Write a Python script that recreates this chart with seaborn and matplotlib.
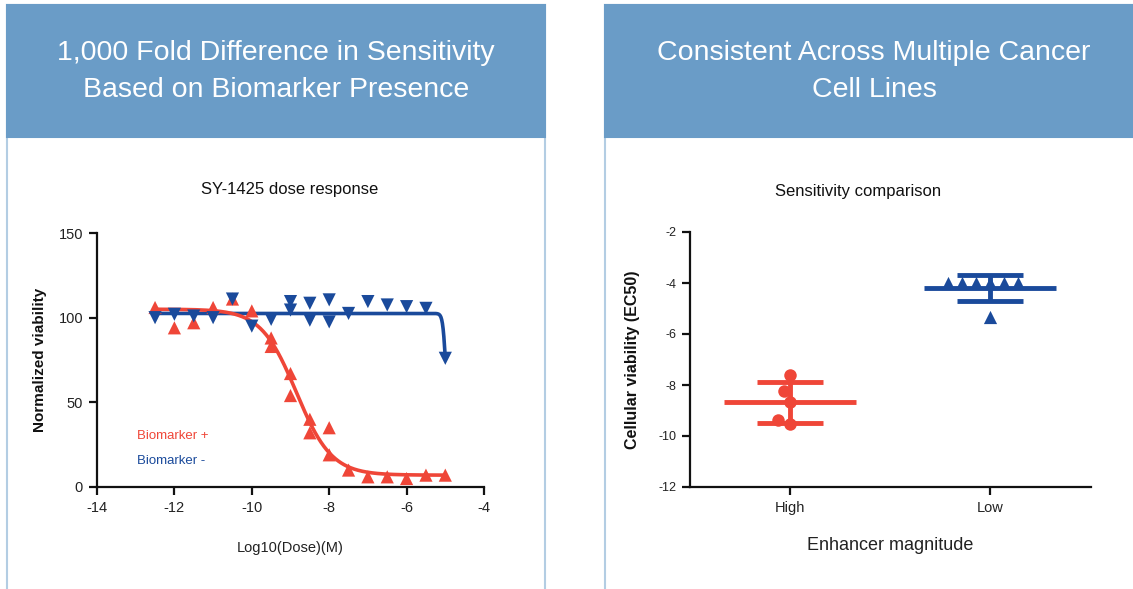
import numpy as np
import pandas as pd
import matplotlib
matplotlib.use("Agg")
import matplotlib.pyplot as plt
from matplotlib.patches import Rectangle
from matplotlib import font_manager
import seaborn as sns

# ---------------- data ----------------
red_dose = [-12.5, -12, -11.5, -11, -10.5, -10, -9.5, -9.5, -9, -9, -8.5, -8.5,
            -8, -8, -7.5, -7, -6.5, -6, -5.5, -5]
red_viab = [106, 94, 97, 106, 111, 104, 88, 83, 67, 54, 40, 32,
            35, 19, 10, 6, 6, 5, 7, 7]
blue_dose = [-12.5, -12, -11.5, -11, -10.5, -10, -9.5, -9, -9, -8.5, -8.5,
             -8, -8, -7.5, -7, -6.5, -6, -5.5, -5]
blue_viab = [100, 102, 101, 100, 111, 95, 99, 109.5, 104.5, 108.5, 98.5,
             110.5, 97.5, 102.5, 109.5, 107.5, 106.5, 105.5, 76]
# fitted 4-parameter logistic models (top, bottom, logEC50, hill)
red_fit = (105.0, 7.0, -8.85, 0.95)
blue_fit = (102.5, 50.0, -5.0, 12.0)
fit_range = (-12.5, -5.0)

ec50_high = [-7.61, -8.22, -8.65, -9.37, -9.53]
ec50_low = [-4.0, -4.0, -4.0, -4.0, -4.0, -4.0, -5.32]
groups = ["High", "Low"]

left_xticks = [-14, -12, -10, -8, -6, -4]
left_yticks = [0, 50, 100, 150]
right_yticks = [-2, -4, -6, -8, -10, -12]

RED = "#ef4638"
BLUE = "#1a4a9b"
HEADER = "#6a9cc7"
BORDER = "#b3cde3"

# ---------------- fonts ----------------
names = {f.name for f in font_manager.fontManager.ttflist}
narrow = "Liberation Sans Narrow" if "Liberation Sans Narrow" in names else "Liberation Sans"
sns.set_theme(style="ticks")
plt.rcParams["font.family"] = ["Liberation Sans", "DejaVu Sans"]

W, H = 1133, 589
fig = plt.figure(figsize=(W / 100, H / 100), dpi=100)
fig.patch.set_facecolor("white")

def fx(px):
    return px / W

def fy(py):
    return 1 - py / H

# panels
for x0, x1, cx, lines in [(7, 545, 276, ["1,000 Fold Difference in Sensitivity", "Based on Biomarker Presence"]),
                          (605, 1145, 874, ["Consistent Across Multiple Cancer", "Cell Lines"])]:
    fig.patches.append(Rectangle((fx(x0), fy(600)), fx(x1 - x0), (600 - 5) / H,
                                 transform=fig.transFigure, facecolor="white",
                                 edgecolor=BORDER, lw=1.5, zorder=0))
    fig.patches.append(Rectangle((fx(x0), fy(137)), fx(x1 - x0), 132 / H,
                                 transform=fig.transFigure, facecolor=HEADER,
                                 edgecolor=HEADER, lw=1.5, zorder=1))
    for i, t in enumerate(lines):
        fig.text(fx(cx), fy(53 + 37 * i), t, color="white", fontsize=20.5,
                 family=[narrow, "DejaVu Sans"], ha="center", va="center")

# ---------------- left chart ----------------
axL = fig.add_axes([fx(97), fy(487), fx(484 - 97), (487 - 233) / H])
axL.set_zorder(10)
axL.set_facecolor("none")
xs = np.linspace(fit_range[0], fit_range[1], 400)

def logistic(x, p):
    top, bottom, lec, hill = p
    return bottom + (top - bottom) / (1 + 10 ** ((x - lec) * hill))

sns.lineplot(x=xs, y=logistic(xs, blue_fit), color=BLUE, lw=2.6, ax=axL, zorder=2)
sns.lineplot(x=xs, y=logistic(xs, red_fit), color=RED, lw=2.6, ax=axL, zorder=3)
sns.scatterplot(x=red_dose, y=red_viab, marker="^", s=90, color=RED,
                edgecolor="none", ax=axL, zorder=4)
sns.scatterplot(x=blue_dose, y=blue_viab, marker="v", s=90, color=BLUE,
                edgecolor="none", ax=axL, zorder=4)
axL.set_xlim(-14, -4)
axL.set_ylim(0, 150)
axL.set_xticks(left_xticks)
axL.set_yticks(left_yticks)
axL.set_xticklabels([str(t) for t in left_xticks], family=[narrow, "DejaVu Sans"])
axL.set_xlabel("")
axL.set_ylabel("")
axL.text(-12.97, 30, "Biomarker +", color=RED, fontsize=9.5, va="center")
axL.text(-12.97, 15.4, "Biomarker -", color=BLUE, fontsize=9.5, va="center")
fig.text(fx(290), fy(190), "SY-1425 dose response", fontsize=12, ha="center", va="center", color="#111111")
fig.text(fx(40), fy(360), "Normalized viability", fontsize=11, fontweight="bold",
         rotation=90, ha="center", va="center", color="#111111")
fig.text(fx(290), fy(548), "Log10(Dose)(M)", fontsize=10.5, ha="center", va="center",
         family=[narrow, "DejaVu Sans"], color="#222222")

# ---------------- right chart ----------------
axR = fig.add_axes([fx(690), fy(487), fx(1091 - 690), (487 - 232) / H])
axR.set_zorder(10)
axR.set_facecolor("none")
df_high = pd.DataFrame({"group": "High", "ec50": ec50_high})
df_low = pd.DataFrame({"group": "Low", "ec50": ec50_low})
sns.swarmplot(data=df_high, x="group", y="ec50", order=groups, color=RED,
              size=9, marker="o", ax=axR, zorder=4)
sns.swarmplot(data=df_low, x="group", y="ec50", order=groups, color=BLUE,
              size=9.5, marker="^", ax=axR, zorder=4)
for i, (vals, col) in enumerate([(ec50_high, RED), (ec50_low, BLUE)]):
    m = np.mean(vals)
    sd = np.std(vals, ddof=1)
    axR.hlines(m, i - 0.33, i + 0.33, color=col, lw=3.5, zorder=3)
    axR.hlines([m - sd, m + sd], i - 0.165, i + 0.165, color=col, lw=3.5, zorder=3)
    axR.vlines(i, m - sd, m + sd, color=col, lw=3.5, zorder=3)
axR.set_xlim(-0.5, 1.505)
axR.set_ylim(-12, -2)
axR.set_yticks(right_yticks)
axR.set_yticklabels([str(t) for t in right_yticks], family=[narrow, "DejaVu Sans"], fontsize=9)
axR.set_xticks([0, 1])
axR.set_xticklabels(groups, family=[narrow, "DejaVu Sans"], fontsize=10.5)
axR.set_xlabel("")
axR.set_ylabel("")
fig.text(fx(858), fy(191), "Sensitivity comparison", fontsize=12, ha="center", va="center", color="#111111")
fig.text(fx(632), fy(360), "Cellular viability (EC50)", fontsize=11.5, fontweight="bold",
         rotation=90, ha="center", va="center", color="#111111")
fig.text(fx(890), fy(545), "Enhancer magnitude", fontsize=13, ha="center", va="center",
         family=[narrow, "DejaVu Sans"], color="#222222")

for ax in (axL, axR):
    sns.despine(ax=ax)
    for s in ("left", "bottom"):
        ax.spines[s].set_linewidth(1.6)
        ax.spines[s].set_color("#111111")
    ax.tick_params(axis="both", length=6, width=1.6, color="#111111",
                   labelcolor="#222222", pad=4)
axL.tick_params(labelsize=10.5)
for lab in axL.get_yticklabels():
    lab.set_family([narrow, "DejaVu Sans"])

fig.savefig("out.png", dpi=100, facecolor="white")
